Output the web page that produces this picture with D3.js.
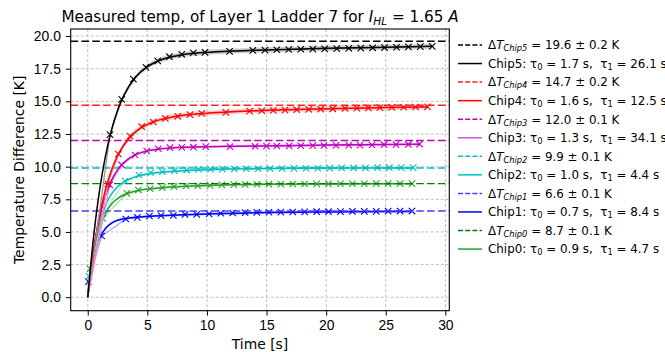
<!DOCTYPE html>
<meta charset="utf-8">
<style>
body { margin: 0; background: #fff; }
svg { font-family: "DejaVu Sans", sans-serif; }
text { white-space: pre; }
.grid line { stroke: #b0b0b0; stroke-width: 0.8; stroke-dasharray: 3,2; }
.axis path, .axis line { stroke: #000; }
.axis text { font-size: 13.9px; fill: #000; }
</style>
<body>
<script src="https://d3js.org/d3.v7.min.js"></script>
<script>

var width = 665, height = 352;
var margin = {top: 29, right: 215.7, bottom: 41.3, left: 70.7};
var innerWidth = width - margin.left - margin.right;
var innerHeight = height - margin.top - margin.bottom;

// measured points (time [s], temperature difference [K])
var tChip0 = [0.19, 1.26, 3.27, 4.25, 5.23, 6.26, 7.24, 8.25, 9.23, 10.26, 11.25, 12.25, 13.2, 14.2, 15.2, 16.2, 17.2, 18.2, 19.2, 20.2, 21.2, 22.2, 23.2, 24.2, 25.2, 26.2, 27.2];
var yChip0 = [2.17, 6.04, 7.96, 8.21, 8.31, 8.39, 8.47, 8.52, 8.54, 8.57, 8.6, 8.62, 8.64, 8.65, 8.66, 8.66, 8.67, 8.67, 8.68, 8.68, 8.69, 8.69, 8.69, 8.7, 8.7, 8.7, 8.7];
var tChip1 = [0.05, 1.17, 3.19, 4.16, 5.17, 6.15, 7.18, 8.16, 9.14, 10.18, 11.16, 12.16, 13.2, 14.18, 15.2, 16.2, 17.2, 18.2, 19.2, 20.2, 21.2, 22.2, 23.2, 24.2, 25.2, 26.2, 27.2];
var yChip1 = [1.2, 4.69, 5.99, 6.12, 6.22, 6.25, 6.27, 6.35, 6.35, 6.38, 6.43, 6.45, 6.48, 6.5, 6.51, 6.52, 6.53, 6.54, 6.55, 6.55, 6.56, 6.57, 6.58, 6.58, 6.59, 6.6, 6.6];
var tChip2 = [0.1, 1.31, 3.13, 4.3, 5.28, 6.26, 7.27, 8.3, 9.28, 10.3, 11.3, 12.3, 13.3, 14.3, 15.3, 16.3, 17.3, 18.3, 19.3, 20.3, 21.3, 22.3, 23.3, 24.3, 25.3, 26.3, 27.3];
var yChip2 = [1.6, 6.43, 8.9, 9.36, 9.54, 9.61, 9.69, 9.74, 9.8, 9.8, 9.81, 9.82, 9.84, 9.84, 9.85, 9.86, 9.87, 9.88, 9.88, 9.89, 9.9, 9.9, 9.91, 9.92, 9.92, 9.93, 9.93];
var tChip3 = [1.85, 2.85, 3.97, 4.95, 5.92, 6.9, 7.89, 8.86, 9.9, 11.94, 14.04, 15.0, 15.86, 16.9, 17.87, 18.88, 19.82, 20.83, 21.9, 22.84, 23.85, 24.86, 25.86, 26.9, 27.83];
var yChip3 = [8.6, 10.13, 10.89, 11.2, 11.37, 11.45, 11.48, 11.49, 11.53, 11.53, 11.56, 11.57, 11.58, 11.59, 11.6, 11.61, 11.62, 11.63, 11.64, 11.65, 11.66, 11.68, 11.69, 11.7, 11.72];
var tChip4 = [1.68, 2.57, 3.55, 4.53, 5.5, 6.51, 7.55, 8.58, 9.56, 11.58, 13.58, 14.6, 15.57, 16.55, 17.53, 18.54, 19.55, 20.55, 21.59, 22.57, 23.54, 24.5, 25.5, 26.5, 27.5, 28.5];
var yChip4 = [8.67, 10.97, 12.34, 13.06, 13.42, 13.7, 13.85, 13.98, 14.08, 14.16, 14.25, 14.28, 14.31, 14.33, 14.36, 14.39, 14.41, 14.43, 14.46, 14.48, 14.5, 14.52, 14.54, 14.55, 14.57, 14.58];
var tChip5 = [1.87, 2.85, 3.83, 4.89, 5.87, 6.85, 7.89, 8.86, 9.84, 11.9, 13.85, 14.87, 15.86, 16.86, 17.87, 18.88, 19.88, 20.89, 21.9, 22.9, 23.9, 24.9, 25.9, 26.9, 27.9, 28.9];
var yChip5 = [12.45, 15.15, 16.7, 17.6, 18.1, 18.42, 18.6, 18.72, 18.75, 18.83, 18.9, 18.92, 18.95, 18.97, 18.99, 19.0, 19.02, 19.04, 19.06, 19.08, 19.1, 19.12, 19.14, 19.17, 19.19, 19.21];

// fitted curves
var fitT = [0, 0.25, 0.5, 0.75, 1, 1.5, 2, 2.5, 3, 4, 5, 6, 7, 8, 10, 12, 15, 20, 25];
var fitChip0 = [0, 1.89, 3.34, 4.44, 5.29, 6.44, 7.14, 7.56, 7.83, 8.12, 8.28, 8.37, 8.44, 8.49, 8.56, 8.61, 8.65, 8.68, 8.7];
var fitChip1 = [0, 1.78, 3.03, 3.92, 4.54, 5.29, 5.68, 5.89, 6.0, 6.12, 6.19, 6.24, 6.28, 6.31, 6.38, 6.42, 6.48, 6.53, 6.56];
var fitChip2 = [0, 1.97, 3.52, 4.74, 5.7, 7.06, 7.91, 8.46, 8.81, 9.22, 9.43, 9.55, 9.63, 9.69, 9.77, 9.82, 9.86, 9.89, 9.9];
var fitChip3 = [0, 1.99, 3.64, 5.0, 6.12, 7.81, 8.97, 9.75, 10.29, 10.92, 11.21, 11.36, 11.43, 11.48, 11.53, 11.56, 11.59, 11.65, 11.7];
var fitChip4 = [0, 1.97, 3.65, 5.09, 6.33, 8.3, 9.75, 10.83, 11.62, 12.66, 13.24, 13.58, 13.79, 13.93, 14.09, 14.2, 14.31, 14.44, 14.52];
var fitChip5 = [0, 2.53, 4.72, 6.6, 8.24, 10.87, 12.83, 14.3, 15.4, 16.84, 17.66, 18.13, 18.4, 18.57, 18.75, 18.85, 18.94, 19.06, 19.15];
var fitEnd = [[27.2, 8.7], [27.2, 6.57], [27.3, 9.9], [27.83, 11.72], [28.5, 14.57], [28.9, 19.21]];

var chipNames = ["Chip0", "Chip1", "Chip2", "Chip3", "Chip4", "Chip5"];
var deltaT = [8.7, 6.6, 9.9, 12.0, 14.7, 19.6];
var deltaErr = [0.1, 0.1, 0.1, 0.1, 0.2, 0.2];
var tau0 = [0.9, 0.7, 1.0, 1.3, 1.6, 1.7];
var tau1 = [4.7, 8.4, 4.4, 34.1, 12.5, 26.1];

var xTicks = [0, 5, 10, 15, 20, 25, 30];
var yTicks = [0, 2.5, 5, 7.5, 10, 12.5, 15, 17.5, 20];

var lineColor = ["#2ca02c", "#0000ff", "#00bfbf", "#bf00bf", "#ff0000", "#000000"];
var legendColor = ["#2ca02c", "#0000ff", "#00c8c8", "#cc55dd", "#ff0000", "#000000"];
var dashColor = ["#008000", "#4040ff", "#00bfbf", "#bf00bf", "#ff2020", "#000000"];
var dataColor = ["#90ee90", "#8fa8ff", "#9fe8e8", "#e090e0", "#ff9090", "#909090"];
var bandColor = ["#2ca02c", "#0000ff", "#00bfbf", "#bf00bf", "#ff0000", "#000000"];

var measured = [[tChip0, yChip0], [tChip1, yChip1], [tChip2, yChip2], [tChip3, yChip3], [tChip4, yChip4], [tChip5, yChip5]];
var fits = [fitChip0, fitChip1, fitChip2, fitChip3, fitChip4, fitChip5];

var xScale = d3.scaleLinear().domain([-1.43, 30.33]).range([0, innerWidth]);
var yScale = d3.scaleLinear().domain([-1.03, 20.54]).range([innerHeight, 0]);

var svg = d3.select("body").append("svg")
    .attr("width", width)
    .attr("height", height);

var g = svg.append("g")
    .attr("transform", `translate(${margin.left},${margin.top})`);

// grid
var grid = g.append("g").attr("class", "grid");
grid.selectAll(".gx").data(xTicks).enter().append("line")
    .attr("x1", d => xScale(d)).attr("x2", d => xScale(d))
    .attr("y1", 0).attr("y2", innerHeight);
grid.selectAll(".gy").data(yTicks).enter().append("line")
    .attr("x1", 0).attr("x2", innerWidth)
    .attr("y1", d => yScale(d)).attr("y2", d => yScale(d));

svg.append("defs").append("clipPath").attr("id", "clip")
  .append("rect").attr("width", innerWidth).attr("height", innerHeight);

var plot = g.append("g").attr("clip-path", "url(#clip)");

var line = d3.line()
    .x(d => xScale(d[0]))
    .y(d => yScale(d[1]));

var smooth = d3.line()
    .x(d => xScale(d[0]))
    .y(d => yScale(d[1]))
    .curve(d3.curveMonotoneX);

var band = d3.area()
    .x(d => xScale(d[0]))
    .y0(d => yScale(d[1] - d[2]))
    .y1(d => yScale(d[1] + d[2]))
    .curve(d3.curveMonotoneX);

function fitPoints(i) {
  var pts = fitT.map((t, j) => [t, fits[i][j]]);
  pts.push(fitEnd[i]);
  return pts;
}

var order = [0, 1, 2, 3, 4, 5];

order.forEach(function(i) {
  var pts = fitPoints(i);
  plot.append("path")
      .attr("d", band(pts.map(p => [p[0], p[1], deltaErr[i]])))
      .attr("fill", bandColor[i])
      .attr("fill-opacity", 0.18);
});

order.forEach(function(i) {
  var data = measured[i][0].map((t, j) => [t, measured[i][1][j]]);
  var pts = fitPoints(i);

  plot.append("path")
      .attr("d", line([[0, 0]].concat(data)))
      .attr("fill", "none")
      .attr("stroke", dataColor[i])
      .attr("stroke-width", 1.2);

  plot.append("path")
      .attr("d", smooth(pts))
      .attr("fill", "none")
      .attr("stroke", lineColor[i])
      .attr("stroke-width", 1.5);

  plot.selectAll(null)
      .data(data)
    .enter().append("path")
      .attr("transform", d => `translate(${xScale(d[0])},${yScale(d[1])})`)
      .attr("d", "M-3.2,-3.2L3.2,3.2M-3.2,3.2L3.2,-3.2")
      .attr("stroke", lineColor[i])
      .attr("stroke-width", 1.1);

  plot.append("line")
      .attr("x1", 0).attr("x2", innerWidth)
      .attr("y1", yScale(deltaT[i])).attr("y2", yScale(deltaT[i]))
      .attr("stroke", dashColor[i])
      .attr("stroke-width", 1.4)
      .attr("stroke-dasharray", "7.5,3.3");
});

// axes
g.append("g")
    .attr("class", "axis")
    .attr("transform", `translate(0,${innerHeight})`)
    .call(d3.axisBottom(xScale).tickValues(xTicks).tickFormat(d3.format("d")).tickSize(4.9).tickPadding(4.9))
    .call(a => a.select(".domain").remove());

g.append("g")
    .attr("class", "axis")
    .call(d3.axisLeft(yScale).tickValues(yTicks).tickFormat(d3.format(".1f")).tickSize(4.9).tickPadding(4.9))
    .call(a => a.select(".domain").remove());

g.append("rect")
    .attr("width", innerWidth)
    .attr("height", innerHeight)
    .attr("fill", "none")
    .attr("stroke", "#000")
    .attr("stroke-width", 1.1);

// labels
g.append("text")
    .attr("x", innerWidth / 2)
    .attr("y", innerHeight + 38)
    .attr("text-anchor", "middle")
    .style("font-size", "13.9px")
    .text("Time [s]");

svg.append("text")
    .attr("transform", `translate(24,${margin.top + innerHeight / 2}) rotate(-90)`)
    .attr("text-anchor", "middle")
    .style("font-size", "13.9px")
    .text("Temperature Difference [K]");

function richText(sel, parts) {
  parts.forEach(function(p) {
    var ts = sel.append("tspan").text(p.t);
    if (p.it) ts.style("font-style", "italic");
    if (p.sub) ts.attr("baseline-shift", "-25%").style("font-size", "70%");
  });
}

var title = svg.append("text")
    .attr("x", margin.left + innerWidth / 2)
    .attr("y", 22)
    .attr("text-anchor", "middle")
    .style("font-size", "15.2px");
richText(title, [
  {t: "Measured temp, of Layer 1 Ladder 7 for "},
  {t: "I", it: true},
  {t: "HL", it: true, sub: true},
  {t: " = 1.65 "},
  {t: "A", it: true}
]);

// legend
var legend = svg.append("g")
    .attr("transform", "translate(458,45)");

var rows = [];
[5, 4, 3, 2, 1, 0].forEach(function(i) {
  rows.push({i: i, dashed: true});
  rows.push({i: i, dashed: false});
});

rows.forEach(function(r, k) {
  var row = legend.append("g").attr("transform", `translate(0,${k * 18.55})`);
  row.append("line")
      .attr("x1", 0).attr("x2", 24)
      .attr("stroke", r.dashed ? dashColor[r.i] : legendColor[r.i])
      .attr("stroke-width", 1.5)
      .attr("stroke-dasharray", r.dashed ? "5,2.2" : null);
  var txt = row.append("text")
      .attr("x", 30)
      .attr("y", 4.3)
      .style("font-size", "11.9px");
  if (r.dashed) {
    richText(txt, [
      {t: "\u0394"},
      {t: "T", it: true},
      {t: chipNames[r.i], it: true, sub: true},
      {t: " = " + deltaT[r.i].toFixed(1) + " \u00b1 " + deltaErr[r.i].toFixed(1) + " K"}
    ]);
  } else {
    richText(txt, [
      {t: chipNames[r.i] + ": \u03c4"},
      {t: "0", sub: true},
      {t: " = " + tau0[r.i].toFixed(1) + " s,  \u03c4"},
      {t: "1", sub: true},
      {t: " = " + tau1[r.i].toFixed(1) + " s"}
    ]);
  }
});

</script>
